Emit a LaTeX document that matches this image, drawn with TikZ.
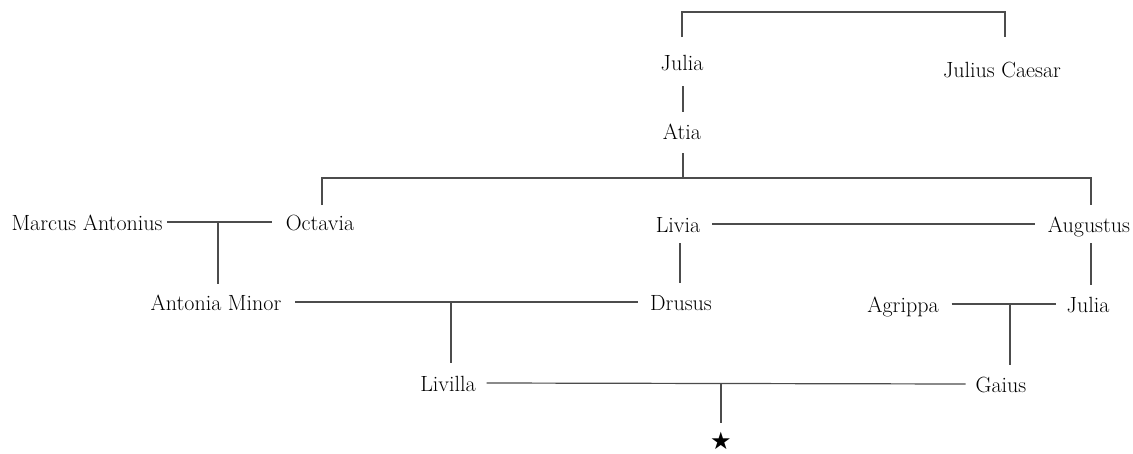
\documentclass[tikz,border=0pt]{standalone}
\usepackage{fontspec}
\newfontfamily\symfont{DejaVu Sans}
\usetikzlibrary{calc}
\begin{document}
\begin{tikzpicture}[x=1pt,y=-1pt,
  p/.style={anchor=base,inner sep=0pt,outer sep=0pt,text height=16pt,text depth=0pt,
    font=\fontsize{22}{26}\selectfont,text=black},
  link/.style={draw=black!70,line width=1.2pt}]
\useasboundingbox[fill=white] (0,0) rectangle (1133,453);
\node[p] (jt) at (682,70) {Julia};
\node[p] (jc) at (1002,77) {Julius Caesar};
\node[p] (at) at (682,139) {Atia};
\node[p] (ma) at (87,230) {Marcus Antonius};
\node[p] (oc) at (320,230) {Octavia};
\node[p] (li) at (678,232) {Livia};
\node[p] (au) at (1089,232) {Augustus};
\node[p] (am) at (216,310) {Antonia Minor};
\node[p] (dr) at (681,310) {Drusus};
\node[p] (ag) at (903,312) {Agrippa};
\node[p] (ju) at (1088,312) {Julia};
\node[p] (lv) at (448,391) {Livilla};
\node[p] (ga) at (1001,392) {Gaius};
\node[anchor=base,inner sep=0pt,text height=14pt,text depth=0pt,font=\symfont\fontsize{24}{27}\selectfont] (st) at (721,449) {★};
% Julia & Julius Caesar
\draw[link] ($(jt.north)+(0,-17)$) -- ++(0,-25) -| ($(jc.north)+(3,-24)$);
\draw[link] ($(jt.south)+(1,16)$) -- ($(at.north)+(1,-11)$);
% Atia's children
\draw[link] ($(at.south)+(1,14)$) -- ++(0,25) coordinate (aj);
\draw[link] ($(oc.north)+(2,-9)$) |- (aj) -| ($(au.north)+(2,-11)$);
% Marcus Antonius & Octavia
\draw[link] ($(ma.east)+(5,0)$) -- ($(oc.west)+(-14,0)$);
\draw[link] ($(am.north |- ma.east)+(2,0)$) -- ($(am.north)+(2,-10)$);
% Livia & Augustus
\draw[link] ($(li.east)+(12,0)$) -- ($(au.west)+(-13,0)$);
\draw[link] ($(li.south)+(2,11)$) -- ($(li.south |- dr.north)+(2,-11)$);
\draw[link] ($(au.south)+(2,11)$) -- ($(au.south |- ju.north)+(2,-11)$);
% Antonia Minor & Drusus
\draw[link] ($(am.east)+(14,0)$) -- ($(dr.west)+(-12,0)$);
\draw[link] ($(lv.north |- am.east)+(3,0)$) -- ($(lv.north)+(3,-12)$);
% Agrippa & Julia
\draw[link] ($(ag.east)+(13,0)$) -- ($(ju.west)+(-11,0)$);
\draw[link] ($(ga.north |- ag.east)+(9,0)$) -- ($(ga.north)+(9,-11)$);
% Livilla & Gaius
\draw[link] ($(lv.east)+(11,0)$) -- ($(ga.west)+(-10,0)$);
\draw[link] (st.center |- lv.east) -- ($(st.north)+(0,-12)$);
\end{tikzpicture}
\end{document}
